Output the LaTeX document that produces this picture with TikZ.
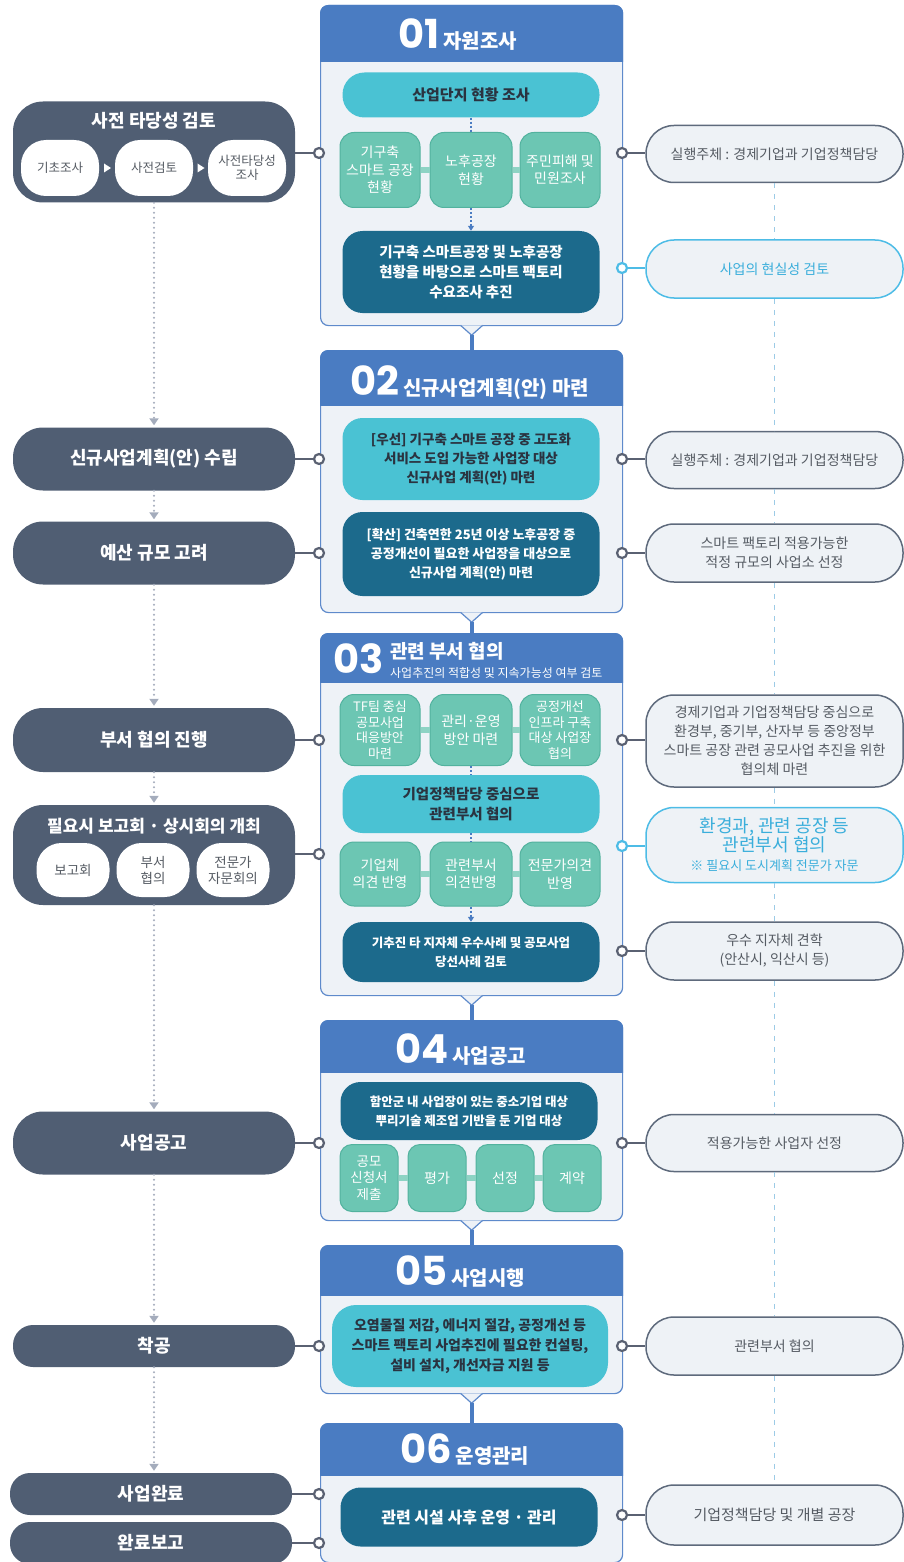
\documentclass[tikz,border=0pt]{standalone}
\usepackage{fontspec}
\setmainfont{Noto Sans CJK KR}
\newfontfamily\numfont{Poppins}
\usetikzlibrary{arrows.meta,calc}

\definecolor{slate}{HTML}{505E73}
\definecolor{hdr}{HTML}{4A7CC2}
\definecolor{framec}{HTML}{5E8ACB}
\definecolor{bodyc}{HTML}{EEF2F7}
\definecolor{cyanbox}{HTML}{4AC2D3}
\definecolor{greenbox}{HTML}{6CC6B3}
\definecolor{greenedge}{HTML}{52B29E}
\definecolor{greenbar}{HTML}{8DD3C4}
\definecolor{darkbox}{HTML}{1C6A8C}
\definecolor{pillfill}{HTML}{EEF2F6}
\definecolor{pilledge}{HTML}{5E6A7C}
\definecolor{skyedge}{HTML}{4DBCE6}
\definecolor{skytext}{HTML}{3AAEDB}
\definecolor{graytext}{HTML}{555B63}
\definecolor{dotc}{HTML}{A4ACBC}
\definecolor{dashc}{HTML}{9CCBE6}
\definecolor{ringc}{HTML}{5A6172}
\definecolor{darktext}{HTML}{2A3340}

\newcommand\hnum{\numfont\bfseries\fontsize{40}{40}\selectfont}
\newcommand\htitle{\rmfamily\fontsize{20}{24}\selectfont\bfseries}
\newcommand\stephdr[2]{%
  \begin{scope}
    \clip (#1.north west) rectangle ($(#1.north east)+(0,#2)$);
    \fill[hdr, rounded corners=8] (#1.north west) rectangle (#1.south east);
  \end{scope}}
\newcommand\stepnotch[1]{%
  \filldraw[fill=bodyc, draw=framec, line width=1.2] ($(#1.south)+(-11,-0.8)$) -- ($(#1.south)+(0,9)$) -- ($(#1.south)+(11,-0.8)$);
  \coordinate (#1tip) at ($(#1.south)+(0,9)$);}

\begin{document}
\begin{tikzpicture}[x=1pt,y=-1pt,
  lbox/.style={fill=slate, text=white, font=\fontsize{18}{21}\selectfont\bfseries, minimum width=282, minimum height=63, rounded corners=30, inner sep=0, align=center},
  wpill/.style={fill=white, text=graytext, font=\fontsize{12.5}{14.5}\selectfont, minimum width=78, minimum height=56, rounded corners=25, inner sep=0, align=center},
  rpill/.style={draw=pilledge, line width=1.5, fill=pillfill, text=graytext, font=\fontsize{14}{19}\selectfont, minimum width=257, minimum height=58, rounded corners=28, inner sep=0, align=center},
  skypill/.style={rpill, draw=skyedge, text=skytext},
  stepframe/.style={draw=framec, line width=1.2, fill=bodyc, minimum width=302, rounded corners=8, anchor=north west, inner sep=0},
  cbox/.style={fill=cyanbox, text=darktext, font=\fontsize{13.5}{19}\selectfont\bfseries, minimum width=257, rounded corners=20, align=center, inner sep=0},
  dbox/.style={fill=darkbox, text=white, font=\fontsize{13.5}{19}\selectfont\bfseries, minimum width=257, rounded corners=20, align=center, inner sep=0},
  gbox/.style={fill=greenbox, draw=greenedge, line width=1, text=white, font=\fontsize{14}{17.5}\selectfont, minimum width=80, minimum height=75, rounded corners=14, align=center, inner sep=0},
  gbar/.style={draw=greenbar, line width=6},
  conn/.style={circle, draw=ringc, line width=2.2, fill=white, minimum size=10, inner sep=0},
  sconn/.style={conn, draw=skyedge},
  cline/.style={draw=ringc, line width=1.5},
  sline/.style={draw=skyedge, line width=1.5},
  flow/.style={draw=dotc, line width=2.2, line cap=round, dash pattern=on 0pt off 5pt, -{Triangle[width=9pt,length=7pt]}, shorten >=2pt},
  inlink/.style={draw=hdr, line width=1.5, dash pattern=on 2pt off 2pt},
  inarrow/.style={inlink, -{Triangle[width=6pt,length=5pt]}},
  steplink/.style={draw=hdr, line width=4},
  vdash/.style={draw=dashc, line width=1.5, dash pattern=on 5pt off 6pt},
  hd/.style={text=white, inner sep=0, anchor=base west}
]
\useasboundingbox (0,0) rectangle (904,1562);

% ---------- step frames ----------
\node[stepframe, minimum height=320] (s1) at (320,5) {};
\stephdr{s1}{57}
\node[stepframe, minimum height=262] (s2) at (320,350) {};
\stephdr{s2}{55}
\node[stepframe, minimum height=362] (s3) at (320,633) {};
\stephdr{s3}{49}
\node[stepframe, minimum height=200] (s4) at (320,1020) {};
\stephdr{s4}{52}
\node[stepframe, minimum height=148] (s5) at (320,1245) {};
\stephdr{s5}{50}
\node[stepframe, minimum height=139] (s6) at (320,1423) {};
\stephdr{s6}{52}

\stepnotch{s1}
\stepnotch{s2}
\stepnotch{s3}
\stepnotch{s4}
\stepnotch{s5}
\draw[steplink] (s1tip) -- (s2.north);
\draw[steplink] (s2tip) -- (s3.north);
\draw[steplink] (s3tip) -- (s4.north);
\draw[steplink] (s4tip) -- (s5.north);
\draw[steplink] (s5tip) -- (s6.north);

% headers
\node[hd] (h1) at (398,49) {\hnum 01\hspace{4pt}\htitle 자원조사};
\node[hd] (h2) at (350,395) {\hnum 02\hspace{4pt}\htitle 신규사업계획(안) 마련};
\node[hd] (h3) at (333,673) {\hnum 03};
\node[hd, font=\fontsize{19}{22}\selectfont\bfseries] (h3t) at (390,658) {관련 부서 협의};
\node[hd, font=\fontsize{12}{14}\selectfont] (h3s) at (390,677) {사업추진의 적합성 및 지속가능성 여부 검토};
\node[hd] (h4) at (395,1063) {\hnum 04\hspace{4pt}\htitle 사업공고};
\node[hd] (h5) at (395,1285) {\hnum 05\hspace{4pt}\htitle 사업시행};
\node[hd] (h6) at (400,1463) {\hnum 06\hspace{4pt}\htitle 운영관리};

% ---------- step 01 contents ----------
\node[cbox, minimum height=45, rounded corners=22, font=\fontsize{15}{19}\selectfont\bfseries] (a1) at (471,95) {산업단지 현황 조사};
\node[gbox] (g1a) at (380,170) {기구축\\스마트 공장\\현황};
\node[gbox, minimum width=82] (g1b) at (471,170) {노후공장\\현황};
\node[gbox] (g1c) at (560,170) {주민피해 및\\민원조사};
\draw[gbar] (g1a.east) -- (g1b.west);
\draw[gbar] (g1b.east) -- (g1c.west);
\node[dbox, minimum height=82, font=\fontsize{14.5}{20}\selectfont\bfseries] (d1) at (471,272) {기구축 스마트공장 및 노후공장\\현황을 바탕으로 스마트 팩토리\\수요조사 추진};
\draw[inlink] (a1.south) -- (g1b.north);
\draw[inarrow] (g1b.south) -- (d1.north);

% ---------- step 02 contents ----------
\node[cbox, minimum height=82] (c2) at (471,459) {[우선] 기구축 스마트 공장 중 고도화\\서비스 도입 가능한 사업장 대상\\신규사업 계획(안) 마련};
\node[dbox, minimum height=84, font=\fontsize{13}{19}\selectfont\bfseries] (d2) at (471,554) {[확산] 건축연한 25년 이상 노후공장 중\\공정개선이 필요한 사업장을 대상으로\\신규사업 계획(안) 마련};

% ---------- step 03 contents ----------
\node[gbox, minimum height=71, font=\fontsize{13}{15.5}\selectfont] (g3a) at (380,730) {TF팀 중심\\공모사업\\대응방안\\마련};
\node[gbox, minimum height=71, minimum width=82] (g3b) at (471,730) {관리·운영\\방안 마련};
\node[gbox, minimum height=71, font=\fontsize{13}{15.5}\selectfont] (g3c) at (560,730) {공정개선\\인프라 구축\\대상 사업장\\협의};
\draw[gbar] (g3a.east) -- (g3b.west);
\draw[gbar] (g3b.east) -- (g3c.west);
\node[cbox, minimum height=58, font=\fontsize{14.5}{20}\selectfont\bfseries] (c3) at (471,804) {기업정책담당 중심으로\\관련부서 협의};
\node[gbox, minimum height=64] (g3d) at (380,874) {기업체\\의견 반영};
\node[gbox, minimum height=64, minimum width=82] (g3e) at (471,874) {관련부서\\의견반영};
\node[gbox, minimum height=64] (g3f) at (560,874) {전문가의견\\반영};
\draw[gbar] (g3d.east) -- (g3e.west);
\draw[gbar] (g3e.east) -- (g3f.west);
\node[dbox, minimum height=60, font=\fontsize{12.5}{19}\selectfont\bfseries] (d3) at (471,952) {기추진 타 지자체 우수사례 및 공모사업\\당선사례 검토};
\draw[inlink] (g3b.south) -- (c3.north);
\draw[inlink] (c3.south) -- (g3e.north);
\draw[inarrow] (g3e.south) -- (d3.north);

% ---------- step 04 contents ----------
\node[dbox, minimum height=58, font=\fontsize{12.5}{19}\selectfont\bfseries] (d4) at (469,1111) {함안군 내 사업장이 있는 중소기업 대상\\뿌리기술 제조업 기반을 둔 기업 대상};
\node[gbox, minimum width=58, minimum height=67, rounded corners=12, font=\fontsize{13.5}{16.5}\selectfont] (g4a) at (369,1178) {공모\\신청서\\제출};
\node[gbox, minimum width=58, minimum height=67, rounded corners=12] (g4b) at (437,1178) {평가};
\node[gbox, minimum width=58, minimum height=67, rounded corners=12] (g4c) at (505,1178) {선정};
\node[gbox, minimum width=58, minimum height=67, rounded corners=12] (g4d) at (572,1178) {계약};
\draw[gbar] (g4a.east) -- (g4b.west);
\draw[gbar] (g4b.east) -- (g4c.west);
\draw[gbar] (g4c.east) -- (g4d.west);

% ---------- step 05 contents ----------
\node[cbox, minimum width=276, minimum height=82, rounded corners=24, font=\fontsize{14}{20}\selectfont\bfseries] (c5) at (470,1346) {오염물질 저감, 에너지 절감, 공정개선 등\\스마트 팩토리 사업추진에 필요한 컨설팅,\\설비 설치, 개선자금 지원 등};

% ---------- step 06 contents ----------
\node[dbox, minimum height=59, font=\fontsize{16}{20}\selectfont\bfseries] (d6) at (469,1517) {관련 시설 사후 운영 · 관리};

% ---------- left column ----------
\node[lbox, minimum height=101] (L1) at (154,152) {};
\node[text=white, font=\fontsize{18}{21}\selectfont\bfseries, inner sep=0] (L1t) at (154,121) {사전 타당성 검토};
\node[wpill] (p1) at (60,168) {기초조사};
\node[wpill] (p2) at (154,168) {사전검토};
\node[wpill] (p3) at (247,168) {사전타당성\\조사};
\fill[white] ($(p1.east)!0.5!(p2.west)+(-3,-4.5)$) -- ++(7,4.5) -- ++(-7,4.5) -- cycle;
\fill[white] ($(p2.east)!0.5!(p3.west)+(-3,-4.5)$) -- ++(7,4.5) -- ++(-7,4.5) -- cycle;

\node[lbox] (L2) at (154,459) {신규사업계획(안) 수립};
\node[lbox] (L3) at (154,553) {예산 규모 고려};
\node[lbox, minimum height=64] (L4) at (154,740) {부서 협의 진행};
\node[lbox, minimum height=100] (L5) at (154,855) {};
\node[text=white, font=\fontsize{17}{20}\selectfont\bfseries, inner sep=0] (L5t) at (154,826) {필요시 보고회 · 상시회의 개최};
\node[wpill, minimum width=73, minimum height=54, font=\fontsize{13.5}{16}\selectfont] (q1) at (73,870) {보고회};
\node[wpill, minimum width=73, minimum height=54, font=\fontsize{13.5}{16}\selectfont] (q2) at (153,870) {부서\\협의};
\node[wpill, minimum width=73, minimum height=54, font=\fontsize{13.5}{16}\selectfont] (q3) at (233,870) {전문가\\자문회의};
\node[lbox] (L6) at (154,1143) {사업공고};
\node[lbox, minimum height=42, rounded corners=20] (L7) at (154,1346) {착공};
\node[lbox, minimum height=42, rounded corners=20] (L8) at (151,1494) {사업완료};
\node[lbox, minimum height=42, rounded corners=20] (L9) at (151,1543) {완료보고};

\draw[flow] (L1.south) -- (L2.north);
\draw[flow] (L2.south) -- (L3.north);
\draw[flow] (L3.south) -- (L4.north);
\draw[flow] (L4.south) -- (L5.north);
\draw[flow] (L5.south) -- (L6.north);
\draw[flow] (L6.south) -- (L7.north);
\draw[flow] (L7.south) -- (L7.south |- L8.north);

% ---------- right column ----------
\node[rpill, minimum height=57] (R1) at (774.5,154) {실행주체 : 경제기업과 기업정책담당};
\node[skypill] (R2) at (774.5,269) {사업의 현실성 검토};
\node[rpill, minimum height=57] (R3) at (774.5,460) {실행주체 : 경제기업과 기업정책담당};
\node[rpill] (R4) at (774.5,553) {스마트 팩토리 적용가능한\\적정 규모의 사업소 선정};
\node[rpill, minimum height=92, font=\fontsize{14}{19}\selectfont] (R5) at (774.5,741) {경제기업과 기업정책담당 중심으로\\환경부, 중기부, 산자부 등 중앙정부\\스마트 공장 관련 공모사업 추진을 위한\\협의체 마련};
\node[skypill, minimum height=75] (R6) at (774.5,845) {\fontsize{18}{20}\selectfont 환경과, 관련 공장 등\\\fontsize{18}{20}\selectfont 관련부서 협의\\\fontsize{13}{18}\selectfont ※ 필요시 도시계획 전문가 자문};
\node[rpill] (R7) at (774.5,951) {우수 지자체 견학\\(안산시, 익산시 등)};
\node[rpill, minimum height=57] (R8) at (774.5,1143) {적용가능한 사업자 선정};
\node[rpill] (R9) at (774.5,1346) {관련부서 협의};
\node[rpill, minimum height=60, font=\fontsize{15}{19}\selectfont] (R10) at (774.5,1515) {기업정책담당 및 개별 공장};

\draw[vdash] (R1.south) -- (R2.north);
\draw[vdash] (R2.south) -- (R3.north);
\draw[vdash] (R3.south) -- (R4.north);
\draw[vdash] (R4.south) -- (R5.north);
\draw[vdash] (R5.south) -- (R6.north);
\draw[vdash] (R6.south) -- (R7.north);
\draw[vdash] (R7.south) -- (R8.north);
\draw[vdash] (R8.south) -- (R9.north);
\draw[vdash] (R9.south) -- (R10.north);

% ---------- connector circles ----------
\node[conn] (cl1) at (319,153) {};
\node[conn] (cl2) at (319,459) {};
\node[conn] (cl3) at (319,553) {};
\node[conn] (cl4) at (319,740) {};
\node[conn] (cl5) at (319,854) {};
\node[conn] (cl6) at (319,1143) {};
\node[conn] (cl7) at (319,1346) {};
\node[conn] (cl8) at (319,1494) {};
\node[conn] (cl9) at (319,1543) {};

\node[conn] (cr1) at (622,153) {};
\node[sconn] (cr2) at (622,268) {};
\node[conn] (cr3) at (622,459) {};
\node[conn] (cr4) at (622,553) {};
\node[conn] (cr5) at (622,740) {};
\node[sconn] (cr6) at (622,846) {};
\node[conn] (cr7) at (622,951) {};
\node[conn] (cr8) at (622,1143) {};
\node[conn] (cr9) at (622,1346) {};
\node[conn] (cr10) at (622,1515) {};

\draw[cline] (cl1) -- (cl1 -| L1.east);
\draw[cline] (cl2) -- (cl2 -| L2.east);
\draw[cline] (cl3) -- (cl3 -| L3.east);
\draw[cline] (cl4) -- (cl4 -| L4.east);
\draw[cline] (cl5) -- (cl5 -| L5.east);
\draw[cline] (cl6) -- (cl6 -| L6.east);
\draw[cline] (cl7) -- (cl7 -| L7.east);
\draw[cline] (cl8) -- (cl8 -| L8.east);
\draw[cline] (cl9) -- (cl9 -| L9.east);

\draw[cline] (cr1) -- (cr1 -| R1.west);
\draw[sline] (cr2) -- (cr2 -| R2.west);
\draw[cline] (cr3) -- (cr3 -| R3.west);
\draw[cline] (cr4) -- (cr4 -| R4.west);
\draw[cline] (cr5) -- (cr5 -| R5.west);
\draw[sline] (cr6) -- (cr6 -| R6.west);
\draw[cline] (cr7) -- (cr7 -| R7.west);
\draw[cline] (cr8) -- (cr8 -| R8.west);
\draw[cline] (cr9) -- (cr9 -| R9.west);
\draw[cline] (cr10) -- (cr10 -| R10.west);
\end{tikzpicture}
\end{document}
